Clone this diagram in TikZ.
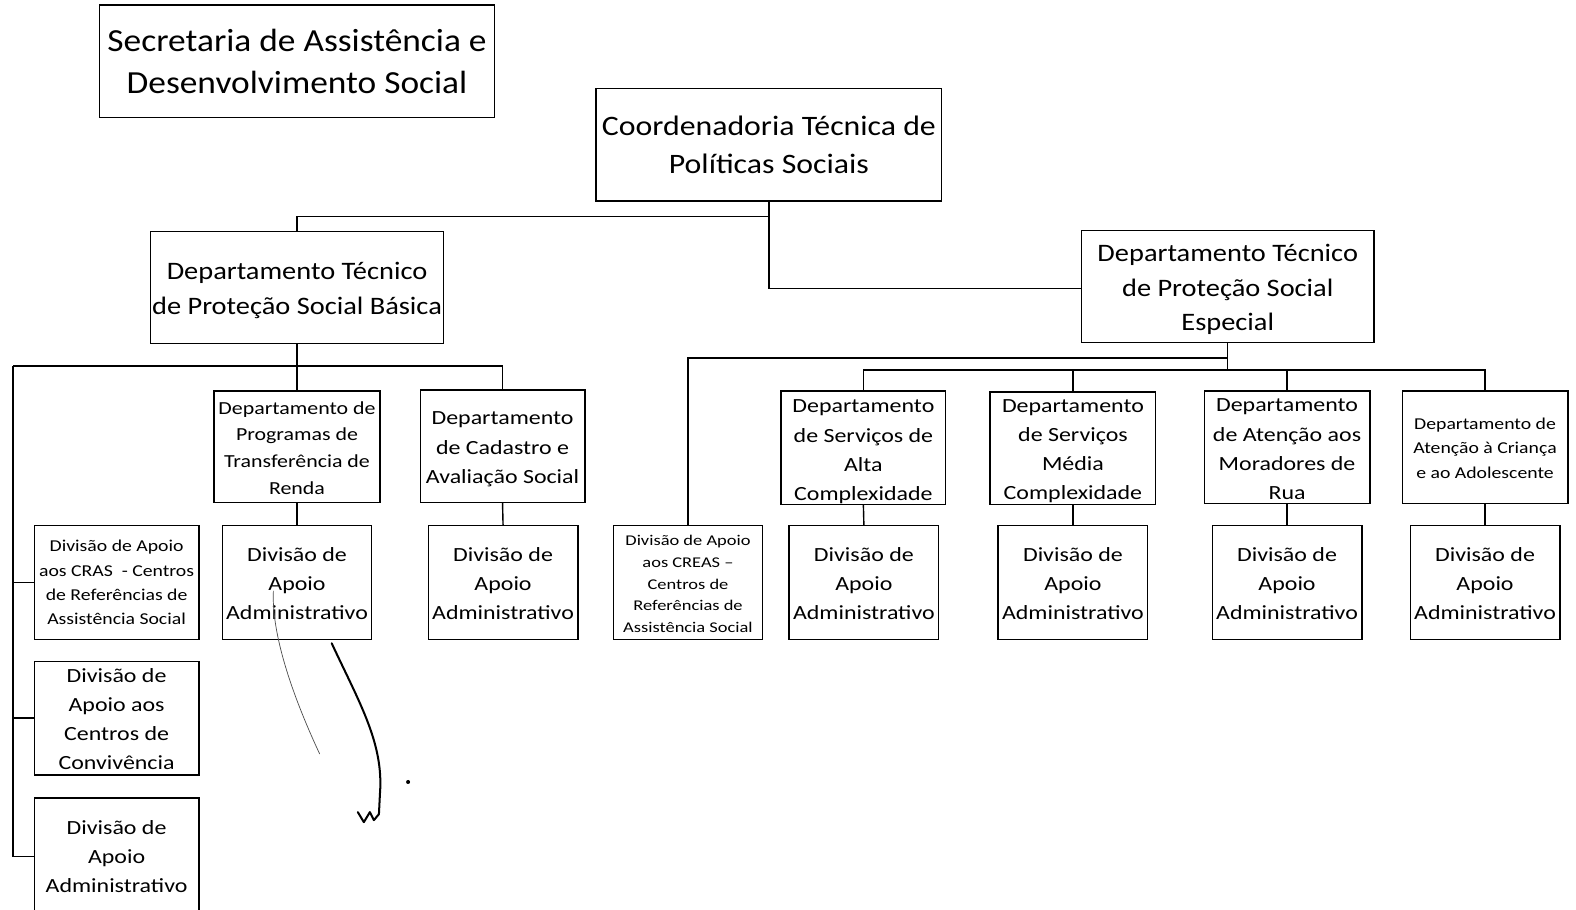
\documentclass[tikz,border=0pt]{standalone}
\usepackage{fontspec}
\setmainfont[FakeStretch=1.19]{Carlito}
\newfontfamily\fsec[FakeStretch=1.10]{Carlito}
\newfontfamily\fmid[FakeStretch=1.13]{Carlito}
\newfontfamily\fcre[FakeStretch=1.24]{Carlito}
\newcommand\fA{\fontsize{20}{29}\selectfont}
\newcommand\fB{\fontsize{16.5}{24}\selectfont}
\begin{document}
\begin{tikzpicture}[x=1pt,y=-1pt,
  box/.style={draw,line width=1.2pt,inner sep=0pt},
  txt/.style={inner sep=0pt,align=center},
  conn/.style={line width=1.4pt},
  scrib/.style={line cap=round,line join=round}]
\useasboundingbox[fill=white] (0,0) rectangle (1568,905);
% #1 name, #2-#5 box corners, #6 font, #7 unused, #8 text, #9 text offset down
\newcommand\bx[9]{\node[box,minimum width={(#4-#2)*1pt},minimum height={(#5-#3)*1pt}] (#1) at ({(#2+#4)/2},{(#3+#5)/2}) {};
  \node[txt,font=#6] at ([yshift={-(#9)*1pt}]#1.center) {#8};}
% top level
\node[box,minimum width=393pt,minimum height=112pt] (sec) at (295.5,61) {};
\node[txt,font=\fsec\fontsize{32}{42}\selectfont] at (sec.center) {Secretaria de Assistência e\\Desenvolvimento Social};
\node[box,minimum width=344pt,minimum height=112pt] (coord) at (765,144) {};
\node[txt,font=\fmid\fontsize{28}{38}\selectfont] at (coord.center) {Coordenadoria Técnica de\\Políticas Sociais};
\node[box,minimum width=291pt,minimum height=112pt] (basica) at (295.5,286) {};
\node[txt,font=\fmid\fontsize{25}{34}\selectfont] at ([yshift=-3pt]basica.center) {Departamento Técnico\\de Proteção Social Básica};
\node[box,minimum width=291pt,minimum height=112pt] (especial) at (1221.5,285) {};
\node[txt,font=\fmid\fontsize{25}{34}\selectfont] at ([yshift=-3pt]especial.center) {Departamento Técnico\\de Proteção Social\\Especial};
% basica children
\bx{prog}{213}{389}{378}{500}{\fontsize{18.3}{26.5}\selectfont}{}{Departamento de\\Programas de\\Transferência de\\Renda}{1}
\bx{cad}{418}{388}{582}{500}{\fA}{}{Departamento\\de Cadastro e\\Avaliação Social}{3}
\bx{divprog}{221}{523}{370}{636}{\fA}{}{Divisão de\\Apoio\\Administrativo}{1}
\bx{divcad}{426}{523}{575}{636}{\fA}{}{Divisão de\\Apoio\\Administrativo}{1}
\bx{cras}{34}{523}{198}{636}{\fB}{}{Divisão de Apoio\\aos CRAS\ \ - Centros\\de Referências de\\Assistência Social}{0}
\bx{conv}{34}{658}{198}{771}{\fA}{}{Divisão de\\Apoio aos\\Centros de\\Convivência}{1}
\bx{admL}{34}{794}{198}{910}{\fA}{}{Divisão de\\Apoio\\Administrativo}{0}
% especial children
\bx{alta}{777}{389}{941}{502}{\fA}{}{Departamento\\de Serviços de\\Alta\\Complexidade}{4}
\bx{media}{985}{390}{1150}{502}{\fA}{}{Departamento\\de Serviços\\Média\\Complexidade}{3}
\bx{rua}{1198}{389}{1363}{501}{\fA}{}{Departamento\\de Atenção aos\\Moradores de\\Rua}{2}
\bx{crianca}{1395}{389}{1560}{501}{\fB}{}{Departamento de\\Atenção à Criança\\e ao Adolescente}{1}
\bx{creas}{610}{523}{759}{636}{\fcre\fontsize{14.8}{21.5}\selectfont}{}{Divisão de Apoio\\aos CREAS –\\Centros de\\Referências de\\Assistência Social}{1.5}
\bx{divalta}{785}{523}{934}{636}{\fA}{}{Divisão de\\Apoio\\Administrativo}{1}
\bx{divmedia}{993}{523}{1142}{636}{\fA}{}{Divisão de\\Apoio\\Administrativo}{1}
\bx{divrua}{1206}{523}{1355}{636}{\fA}{}{Divisão de\\Apoio\\Administrativo}{1}
\bx{divcrianca}{1403}{523}{1552}{636}{\fA}{}{Divisão de\\Apoio\\Administrativo}{1}
% connectors top
\draw[conn] (coord.south) -- ++(0,15) -| (basica.north);
\draw[conn] (coord.south) |- ([yshift=-2pt]especial.west);
% basica bus
\coordinate (bbus) at (basica.south |- 0,364);
\coordinate (lbus) at (13,364);
\draw[conn] (basica.south) -- (bbus) -- (prog.north);
\draw[conn] (lbus) -| (cad.north);
\draw[conn] (lbus) |- (admL.west);
\draw[conn] (lbus |- cras.west) -- (cras.west);
\draw[conn] (lbus |- conv.west) -- (conv.west);
\draw[conn] (prog.south) -- (divprog.north);
\draw[conn] (cad.south) -- (divcad.north);
% especial bus
\coordinate (ebus1) at (especial.south |- 0,356);
\coordinate (ebus2) at (especial.south |- 0,368);
\draw[conn] (especial.south) -- (ebus2);
\draw[conn] (ebus1) -| (creas.north);
\draw[conn] (alta.north) |- (ebus2) -| (crianca.north);
\draw[conn] (media.north) -- (media.north |- ebus2);
\draw[conn] (rua.north) -- (rua.north |- ebus2);
\draw[conn] (alta.south) -- (divalta.north);
\draw[conn] (media.south) -- (divmedia.north);
\draw[conn] (rua.south) -- (divrua.north);
\draw[conn] (crianca.south) -- (divcrianca.north);
% handwritten scribble
\draw[scrib,line width=0.7pt,black!70] (272,588) .. controls (270,630) and (290,690) .. (318,750);
\draw[scrib,line width=2pt] (330,640) .. controls (358,700) and (382,740) .. (378,790) -- (377,810)
  -- (372,816) -- (368,808) -- (362,818) -- (356,808);
\fill (406,778) circle (2pt);
\end{tikzpicture}
\end{document}
